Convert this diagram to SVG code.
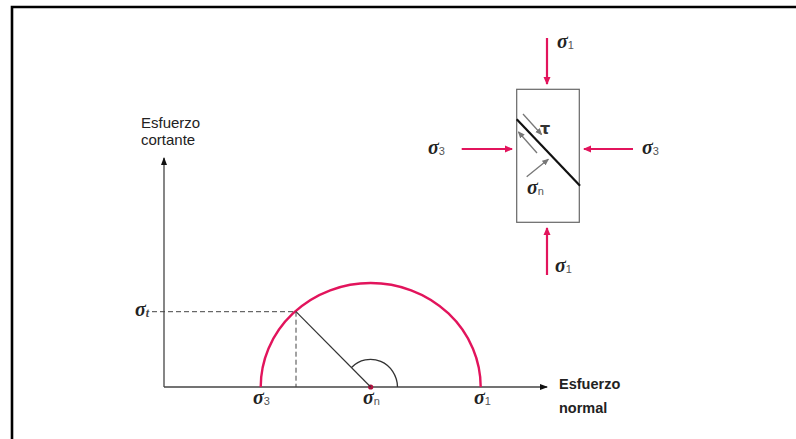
<svg xmlns="http://www.w3.org/2000/svg" width="796" height="439" viewBox="0 0 796 439">
<defs>
<marker id="ap" markerWidth="8" markerHeight="8" refX="7" refY="4" orient="auto" markerUnits="userSpaceOnUse"><path d="M0,0.5 L8,4 L0,7.5 Z" fill="#E2145C"/></marker>
<marker id="ak" markerWidth="8" markerHeight="8" refX="7" refY="4" orient="auto" markerUnits="userSpaceOnUse"><path d="M0,1 L8,4 L0,7 Z" fill="#111"/></marker>
<marker id="ag" markerWidth="7" markerHeight="7" refX="6" refY="3.5" orient="auto" markerUnits="userSpaceOnUse"><path d="M0,0.5 L7,3.5 L0,6.5 Z" fill="#777"/></marker>
</defs>
<style>
.sig{font-family:"Liberation Serif","DejaVu Serif",serif;font-size:20px;font-style:italic;font-weight:bold;fill:#222}
.sub{font-family:"Liberation Sans",Arial,sans-serif;font-size:11px;fill:#555}
.subt{font-family:"Liberation Serif","DejaVu Serif",serif;font-size:12px;font-style:italic;font-weight:bold;fill:#444}
.lab{font-family:"Liberation Sans",Arial,sans-serif;font-size:15px;fill:#222}
.labb{font-family:"Liberation Sans",Arial,sans-serif;font-size:14.5px;font-weight:bold;fill:#222}
.pk{stroke:#E2145C;stroke-width:2.2;fill:none;marker-end:url(#ap)}
.gr{stroke:#777;stroke-width:1.3;fill:none;marker-end:url(#ag)}
</style>
<rect width="796" height="439" fill="#fff"/>
<path d="M12,440 V7 H797" fill="none" stroke="#000" stroke-width="2.6"/>

<g id="axes">
<line x1="164" y1="387" x2="164" y2="158" stroke="#444" stroke-width="1.3" marker-end="url(#ak)"/>
<line x1="164" y1="387" x2="547" y2="387" stroke="#444" stroke-width="1.3" marker-end="url(#ak)"/>
<text class="lab" x="141" y="128">Esfuerzo</text>
<text class="lab" x="141" y="145">cortante</text>
<text class="labb" x="559" y="389">Esfuerzo</text>
<text class="labb" x="559" y="413">normal</text>
</g>

<g id="mohr-circle">
<path d="M260.7,387 A110,104 0 0 1 480.7,387" fill="none" stroke="#E2145C" stroke-width="2.4"/>
<circle cx="370.7" cy="387" r="2.6" fill="#B0103E"/>
<line x1="370.7" y1="387" x2="296" y2="311.7" stroke="#333" stroke-width="1.2"/>
<path d="M397.5,387 A27,28 0 0 0 351.5,367.5" fill="none" stroke="#333" stroke-width="1.3"/>
<line x1="152" y1="311.7" x2="296" y2="311.7" stroke="#444" stroke-width="1" stroke-dasharray="5,3"/>
<line x1="296" y1="311.7" x2="296" y2="387" stroke="#444" stroke-width="1" stroke-dasharray="5,3"/>
<text x="135" y="316"><tspan class="sig">σ</tspan><tspan class="subt" dy="1">t</tspan></text>
<text x="253" y="404"><tspan class="sig">σ</tspan><tspan class="sub" dy="1">3</tspan></text>
<text x="363" y="404"><tspan class="sig">σ</tspan><tspan class="sub" dy="1">n</tspan></text>
<text x="474" y="404"><tspan class="sig">σ</tspan><tspan class="sub" dy="1">1</tspan></text>
</g>

<g id="element">
<rect x="516.7" y="89.3" width="62.6" height="133" fill="#fff" stroke="#666" stroke-width="1.2"/>
<line x1="516.7" y1="119.3" x2="580" y2="185.7" stroke="#111" stroke-width="2.2"/>
<line class="gr" x1="523" y1="114" x2="541.5" y2="134.5"/>
<line class="gr" x1="537" y1="153" x2="518.5" y2="132"/>
<line class="gr" x1="526.7" y1="176.7" x2="548.3" y2="159.3"/>
<text x="540" y="134" font-family="DejaVu Sans, sans-serif" font-size="16" font-weight="bold" fill="#333">τ</text>
<text x="527" y="194"><tspan class="sig">σ</tspan><tspan class="sub" dy="1">n</tspan></text>
</g>

<g id="stresses">
<line class="pk" x1="547" y1="38" x2="547" y2="84"/>
<line class="pk" x1="547" y1="275" x2="547" y2="228"/>
<line class="pk" x1="461.7" y1="149" x2="512" y2="149"/>
<line class="pk" x1="633" y1="149" x2="584" y2="149"/>
<text x="557" y="48"><tspan class="sig">σ</tspan><tspan class="sub" dy="1">1</tspan></text>
<text x="555" y="272"><tspan class="sig">σ</tspan><tspan class="sub" dy="1">1</tspan></text>
<text x="428" y="154"><tspan class="sig">σ</tspan><tspan class="sub" dy="1">3</tspan></text>
<text x="642" y="154"><tspan class="sig">σ</tspan><tspan class="sub" dy="1">3</tspan></text>
</g>
</svg>
